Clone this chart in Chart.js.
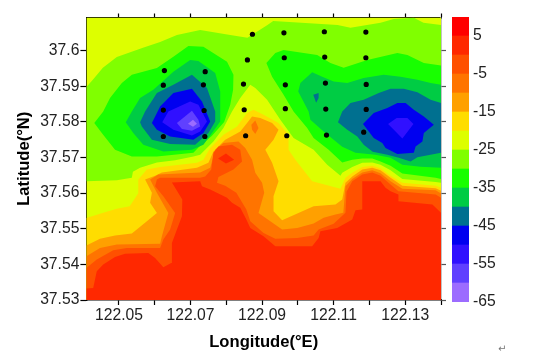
<!DOCTYPE html>
<html>
<head>
<meta charset="utf-8">
<script src="https://cdn.jsdelivr.net/npm/chart.js@4/dist/chart.umd.js"></script>
<style>
  html, body { margin: 0; padding: 0; background: #fff; }
  #wrap { position: relative; width: 534px; height: 360px; overflow: hidden; }
  canvas { position: absolute; }
  #mark { position: absolute; left: 498px; top: 343px; font: 10px "DejaVu Sans"; color: #777; }
</style>
</head>
<body>
<div id="wrap">
  <canvas id="main" width="534" height="360" style="left:0;top:0"></canvas>
  <canvas id="bar" width="82" height="320" style="left:452px;top:0"></canvas>
  <span id="mark">↵</span>
</div>
<script>
const lonTicks = [122.05, 122.06, 122.07, 122.08, 122.09, 122.10, 122.11, 122.12, 122.13, 122.14];
const latTicks = [37.53, 37.54, 37.55, 37.56, 37.57, 37.58, 37.59, 37.60];
const barTicks = [5, -5, -15, -25, -35, -45, -55, -65];

// colour bar, bottom band first
const levels = [-65, -60, -55, -50, -45, -40, -35, -30, -25, -20, -15, -10, -5, 0, 5];
const colors = ['#9c6cff', '#6040ff', '#3010ff', '#0000f0', '#007090', '#00cc44', '#18ff00', '#80ff00',
  '#ddff00', '#ffdd00', '#ffa000', '#ff7400', '#ff5000', '#ff2800', '#ff0000'];

// station dots
const dotLon = [122.0627, 122.0741, 122.0624, 122.0736, 122.0624, 122.0738, 122.0624, 122.0740,
  122.0873, 122.0859, 122.0848, 122.0850, 122.0854,
  122.0961, 122.1074, 122.1190, 122.0962, 122.1075, 122.1190, 122.0965, 122.1077, 122.1191,
  122.0965, 122.1078, 122.1191, 122.0969, 122.1080, 122.1184];
const dotLat = [37.5944, 37.5941, 37.5903, 37.5904, 37.5833, 37.5832, 37.5759, 37.5759,
  37.6046, 37.5974, 37.5906, 37.5834, 37.5761,
  37.6050, 37.6053, 37.6052, 37.5980, 37.5982, 37.5980, 37.5904, 37.5909, 37.5905,
  37.5837, 37.5836, 37.5835, 37.5761, 37.5763, 37.5771];

// contour outlines, pairs are 1/1000 degree from 122E and 37.5N
const whole = [[40.9,30],[140,30],[140,109.3],[40.9,109.3]];
const below25 = [[40.9,89.8],[42.7,91.8],[45.5,95.2],[49.4,98.2],[56.7,100.8],[61.5,102.4],[66.2,104.4],[72.7,105.8],[81.1,104.4],[85.9,103.6],[91.5,107.2],[93.1,108.3],[111.1,107.2],[114.7,106.4],[123.1,107.8],[126.8,108.9],[132.4,109.2],[135.1,107.8],[140,107.2],[140,62.9],[138.5,63.1],[129.2,64],[125.9,66.4],[123.1,68],[120.8,68.6],[118,68.5],[115.2,67.3],[112.4,65.7],[111.9,64.9],[108.2,68],[104.4,72.2],[98.8,75.5],[95.1,80.6],[91.4,86.2],[88.1,89.5],[86.7,90.4],[83.9,86.7],[81.6,82.9],[79.2,78.3],[76.4,74.5],[72.7,70.8],[70.8,70.3],[65.7,69.2],[60.6,68.6],[55.9,67.1],[53.9,66],[53.6,64.3],[49.4,63.6],[40.9,63.3]];
const below30w = [[43.1,79.7],[45.6,82.9],[47.5,86.7],[50.8,90.9],[53.6,93.2],[60.6,95.1],[65.2,98.3],[69.4,101.3],[73.6,101.1],[80.2,96.9],[82,93.2],[81.9,89],[81.1,84.8],[79.4,80],[76,76.1],[72.7,73.3],[70.8,71.3],[60.6,70.3],[53.6,70.3],[48.9,72.2],[45.2,76.9]];
const below35w = [[51.9,79.9],[53.6,82.9],[55.9,86.7],[59.6,89],[65.2,94.1],[69.9,97.4],[72.2,97.1],[76.9,93.7],[78.3,88.5],[78.3,80.1],[76,76.9],[73.6,73.6],[70.4,72.2],[62.4,71.7],[56.8,73.6],[54,76.9]];
const below40w = [[55.9,79.9],[57.3,82.9],[60.6,88.1],[65.2,90.4],[70.4,93.2],[74.6,89.5],[76.9,82.9],[76.9,80.1],[75,76.9],[71.3,73.6],[64.3,73.8],[59.2,75],[56.4,78.7]];
const below45w = [[59.2,79.7],[61.5,84.3],[65.2,88.1],[70.4,89.3],[73.2,85.7],[75.5,80.1],[73.6,76.9],[70.8,75],[64.3,75.9],[60.6,77.8]];
const below50w = [[62.1,79.9],[63.8,82.9],[69.9,85.7],[72.2,84.8],[74.6,80.1],[72.7,77.3],[70.4,76.2],[65.2,77.8]];
const below55w = [[66.2,79.7],[70.4,83.1],[72.2,80.6],[72.7,78.7],[70.4,77.5],[67.6,78]];
const below60w = [[69.3,79.5],[70.7,80.6],[71.8,79.5],[70.7,78.6]];
const below30e = [[91.2,96.5],[93.7,99.3],[96,100.2],[105.4,98.8],[109.1,96.5],[112.8,95.2],[119.4,97.4],[127.8,99.3],[130.6,98.8],[135.2,96.5],[140,95.8],[140,64],[138.5,64.3],[129.2,65.5],[125.9,67.7],[123.1,68.9],[120.8,69.7],[118,69.7],[115.2,69.4],[112.4,68.6],[108.6,72.2],[104.4,75.5],[102.6,78.3],[98.8,82.9],[96,87.6],[92.8,92.7]];
const below35e = [[100.1,88.5],[100.7,90.9],[104,93.9],[106.8,92.7],[110,91.3],[113.8,90.9],[118.4,92.3],[124,93.2],[128.7,92.7],[133.4,91.8],[137.1,90.9],[140,90.4],[140,67.1],[134.3,67.4],[129.2,68],[125.9,69.9],[121.7,70.8],[116.1,71.3],[112.4,73],[107.2,77.3],[103.5,80.6],[103,82.9]];
const below40e = [[111.2,79.9],[112.4,82.9],[114.7,85.3],[118.4,86.2],[122.6,88.1],[125.9,89.3],[129.6,89.3],[133.4,88.3],[137.1,86.2],[140,85.3],[140,71.3],[133.4,70.1],[131.5,68.9],[128.2,69.9],[125,70.8],[120.9,71.6],[118.4,73.6],[116.6,75.9],[113.8,77.8]];
const below40s = [[104.3,87.6],[105.8,88.1],[105.8,86.7],[105.1,85.4]];
const below45e = [[118.2,79.4],[121.2,82.5],[125,83.9],[127.8,85.3],[130.1,85.3],[132.4,83.4],[135.2,81.5],[138,79.2],[135.2,76.9],[134.8,74.5],[132.9,73.1],[132.4,71.3],[127.8,71],[124.5,72.7],[123.6,74.1],[121.2,75.5]];
const below50e = [[125.2,79.4],[127.6,81.1],[130.6,81.1],[132.3,79.4],[129.2,75.3],[127.3,77.3]];
const above20 = [[40.9,53],[45.6,54.5],[49.4,55.6],[53,56.3],[55.4,60],[55.4,63.8],[57.8,66.6],[61.5,67.3],[71.8,68.5],[73.6,69.4],[75.5,72.7],[79.2,76.4],[83,78.7],[85.8,82.5],[87.6,83.4],[90.4,82],[94.6,79.7],[97.4,76.4],[97.4,72.2],[99.3,69.4],[104,63.3],[111.9,61.2],[113.3,64.3],[115.2,65.7],[118,67.3],[120.8,67.7],[123.1,67],[125.9,64.9],[129.2,62.9],[138.5,62.1],[140,61.5],[140,30],[40.9,30]];
const above15 = [[40.9,45.3],[44.7,47.2],[48.9,48.1],[53.6,48.7],[57.8,52.1],[60.6,54.4],[58.7,57.3],[59.2,60.1],[57.3,63.8],[60.1,64.9],[62,65.8],[71.8,67.1],[75,68.5],[76.4,71.7],[79.7,75],[83.9,77.3],[85.8,79.7],[87.2,81.5],[89.5,81.1],[92.8,79.7],[94.6,77.8],[93.2,75],[90.9,72.2],[92.8,68.5],[94.6,63.3],[93.2,59.1],[93.2,54.9],[95.6,52.4],[104.4,56.3],[110.5,56.8],[112.4,58.2],[113.3,62.9],[115.2,64.7],[118,66.6],[120.8,67.1],[123.1,66.4],[125.9,64.3],[129.2,62.1],[138.5,61.4],[140,60.7],[140,30],[40.9,30]];
const above10 = [[40.9,42.3],[44.7,44.6],[49.4,45.6],[61.5,45.8],[62,47.9],[63.8,54.4],[60.6,60.1],[58.7,63.8],[61,65.2],[72.7,65.8],[75.5,67.1],[76,68.9],[76.9,72.2],[79.2,74.1],[83.4,74.5],[85.3,72.7],[87.2,69.4],[88.1,65.7],[90,62.9],[90.6,60.1],[89,54.4],[92.3,52.1],[95.6,49.8],[99.8,50.2],[104.4,51.5],[107.2,53.1],[110.5,54],[112.7,54.5],[113.3,61.9],[115.2,64],[118,65.8],[120.8,66.4],[123.1,65.6],[125.9,63.3],[129.2,61.2],[138.5,60.8],[140,59.9],[140,30],[40.9,30]];
const above10s = [[87,79.2],[88.1,80.4],[89,78.3],[88.1,76.6],[87.2,77.8]];
const above5 = [[40.9,39],[43.8,41.4],[48.4,44],[52.2,44.6],[61.5,44.6],[62.4,47],[64.3,49.8],[65.7,54.4],[62.4,59.1],[60.1,61.9],[60.6,63.8],[61.5,64.3],[72.7,64.3],[74.1,64.7],[75.8,66.6],[76.4,71.3],[77.8,73.1],[81.6,73.6],[83.9,72.2],[84.4,68.9],[82,66.6],[77.8,64.5],[77.4,62.9],[79.7,62.1],[82.8,60.1],[85.6,55.4],[86.7,52.1],[90.4,48.8],[93.7,47.2],[99.8,47.4],[104.4,48.1],[105.8,49.8],[110,51.4],[113.3,54.5],[113.6,60.4],[115.2,63.3],[118,65.2],[120.8,65.8],[123.1,64.9],[125.9,62.4],[128.1,60.5],[138.5,59.6],[140,58.7],[140,30],[40.9,30]];
const above0 = [[40.9,33.2],[42.8,33.4],[43.8,38.1],[45.6,40],[48.9,42.1],[51.7,43],[58.2,43.2],[60.1,41.8],[62.4,39.2],[64.6,40.4],[64.8,46],[66.2,49.8],[67.6,53.5],[67.7,58.2],[64.8,63],[72.7,63.3],[73.2,61.9],[75.5,61],[80.2,58.7],[81.6,57.3],[83.9,55.9],[85.6,52.6],[86.7,50.2],[90.4,47.9],[93.7,45.1],[104,45.1],[105.8,47.4],[106.3,49.3],[111,50.2],[115.2,52.6],[116.1,55.2],[118,55.4],[118,63.3],[123.1,63.3],[124.5,61.5],[125.9,60.5],[128.1,59.6],[128.1,57.7],[137.6,56.8],[140,54.5],[140,30],[40.9,30]];
const above0s = [[77.7,69.7],[79.9,71.1],[82.2,69.4],[79.9,68.3]];

// painted in this order, later ones sit on top
const shapes = [
  [whole, '#ddff00'], [below25, '#80ff00'],
  [below30w, '#18ff00'], [below30e, '#18ff00'],
  [below35w, '#00cc44'], [below35e, '#00cc44'],
  [below40w, '#007090'], [below40e, '#007090'], [below40s, '#007090'],
  [below45w, '#0000f0'], [below45e, '#0000f0'],
  [below50w, '#3010ff'], [below50e, '#3010ff'],
  [below55w, '#6040ff'], [below60w, '#9c6cff'],
  [above20, '#ffdd00'], [above15, '#ffa000'], [above10, '#ff7400'], [above10s, '#ff7400'],
  [above5, '#ff5000'], [above0, '#ff2800'], [above0s, '#ff2800']
];

const tickFont = { family: 'Liberation Sans', size: 15.7 };
const titleFont = { family: 'Liberation Sans', size: 16.6, weight: 'bold' };
const xMin = 122.0409, xMax = 122.14, yMin = 37.53, yMax = 37.6093;

const datasets = shapes.map(([outline, color], i) => ({
  data: outline.map(([a, b]) => ({ x: 122 + a / 1000, y: 37.5 + b / 1000 })),
  showLine: true,
  fill: 'shape',
  backgroundColor: color,
  borderWidth: 0,
  pointRadius: 0,
  order: shapes.length - i
}));
datasets.push({
  data: dotLon.map((lon, i) => ({ x: lon, y: dotLat[i] })),
  backgroundColor: '#000',
  borderWidth: 0,
  pointRadius: 2.6,
  order: 0
});

function sideAxis(axis, position, min, max, values, size, tickLength) {
  return {
    type: 'linear', axis, position, min, max,
    border: { color: position === 'right' ? '#666' : '#000', width: 1.4 },
    grid: { drawOnChartArea: false, tickLength, tickColor: position === 'right' ? '#555' : '#000', tickWidth: 1.2 },
    ticks: { display: false },
    afterBuildTicks: s => { s.ticks = values.map(v => ({ value: v })); },
    afterFit: s => { if (axis === 'x') s.height = size; else s.width = size; }
  };
}

new Chart('main', {
  type: 'scatter',
  data: { datasets },
  options: {
    responsive: false,
    animation: false,
    events: [],
    layout: { padding: 0 },
    plugins: { legend: { display: false }, tooltip: { enabled: false } },
    scales: {
      x: {
        type: 'linear', position: 'bottom', min: xMin, max: xMax,
        border: { color: '#000', width: 1.4 },
        grid: { drawOnChartArea: false, tickLength: 5, tickColor: '#000', tickWidth: 1.2 },
        ticks: {
          autoSkip: false, maxRotation: 0, padding: 1, color: '#222', font: tickFont,
          callback: (v, i) => (i % 2 === 0 ? v.toFixed(2) : '')
        },
        title: { display: true, text: 'Longitude(°E)', color: '#000', font: titleFont, padding: { top: 0, bottom: 8 } },
        afterBuildTicks: s => { s.ticks = lonTicks.map(v => ({ value: v })); },
        afterFit: s => { s.height = 60; }
      },
      y: {
        type: 'linear', position: 'left', min: yMin, max: yMax,
        border: { color: '#000', width: 1.4 },
        grid: { drawOnChartArea: false, tickLength: 6, tickColor: '#000', tickWidth: 1.2 },
        ticks: {
          autoSkip: false, padding: 1, color: '#222', font: tickFont,
          callback: v => String(+v.toFixed(2))
        },
        title: { display: true, text: 'Latitude(°N)', color: '#000', font: titleFont, padding: { top: 14, bottom: 0 } },
        afterBuildTicks: s => { s.ticks = latTicks.map(v => ({ value: v })); },
        afterFit: s => { s.width = 86.4; }
      },
      x2: sideAxis('x', 'top', xMin, xMax, lonTicks, 17.5, 4),
      y2: sideAxis('y', 'right', yMin, yMax, latTicks, 93, 5)
    }
  }
});

new Chart('bar', {
  type: 'bar',
  data: {
    labels: [''],
    datasets: levels.map((lo, i) => ({
      data: [[lo, lo + 5]],
      backgroundColor: colors[i],
      borderWidth: 0,
      grouped: false,
      barPercentage: 1,
      categoryPercentage: 1
    }))
  },
  options: {
    responsive: false,
    animation: false,
    events: [],
    layout: { padding: { top: 17, bottom: 18 } },
    plugins: { legend: { display: false }, tooltip: { enabled: false } },
    scales: {
      x: { display: false },
      y: {
        position: 'right', min: -65, max: 10,
        border: { display: false },
        grid: { display: false, drawTicks: false },
        ticks: { autoSkip: false, padding: 4, color: '#222', font: tickFont },
        afterBuildTicks: s => { s.ticks = barTicks.map(v => ({ value: v })); },
        afterFit: s => { s.width = 65; }
      }
    }
  }
});
</script>
</body>
</html>
